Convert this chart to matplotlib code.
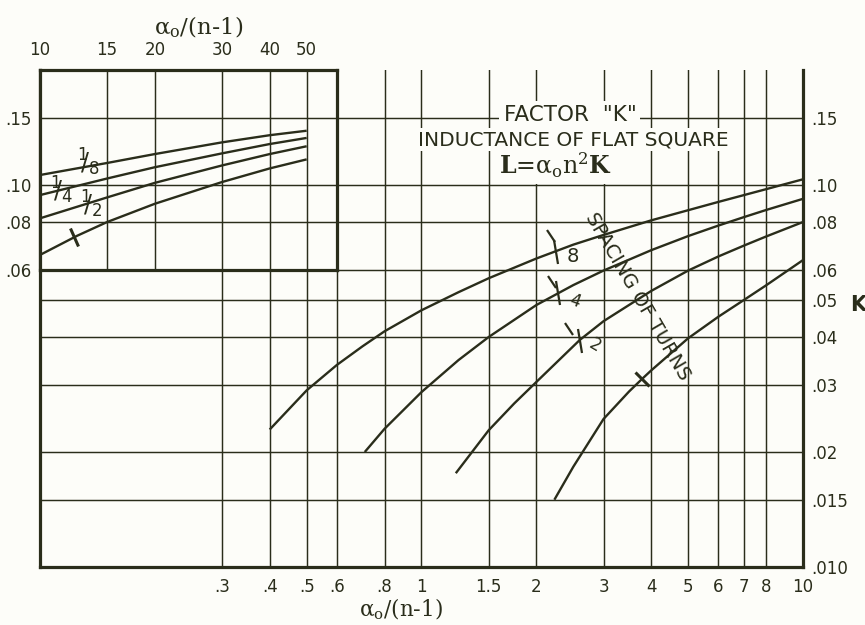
import matplotlib
matplotlib.use('Agg')
import matplotlib.pyplot as plt
from matplotlib.markers import MarkerStyle
from matplotlib.transforms import Affine2D
import numpy as np

# ---------------- data ----------------
spacing_labels = ['1/8', '1/4', '1/2', '1']

main_x_18 = [0.4, 0.5, 0.6, 0.7, 0.8, 1.0, 1.25, 1.5, 2.0, 2.5, 3.0, 4.0, 5.0, 6.0, 8.0, 10]
main_k_18 = [0.0229, 0.0290, 0.0338, 0.0378, 0.0414, 0.0470, 0.0524, 0.0570, 0.0642, 0.0698,
             0.0740, 0.0808, 0.0859, 0.0903, 0.0975, 0.1035]
main_x_14 = [0.71, 0.8, 1.0, 1.25, 1.5, 2.0, 2.5, 3.0, 4.0, 5.0, 6.0, 7.0, 8.0, 10]
main_k_14 = [0.0200, 0.0230, 0.0287, 0.0348, 0.0400, 0.0485, 0.0547, 0.0597, 0.0675, 0.0735,
             0.0783, 0.0824, 0.0860, 0.0920]
main_x_12 = [1.23, 1.5, 1.75, 2.0, 2.6, 3.0, 4.0, 5.0, 6.0, 7.0, 8.0, 10]
main_k_12 = [0.0176, 0.0228, 0.0268, 0.0305, 0.0393, 0.0440, 0.0528, 0.0597, 0.0650, 0.0694,
             0.0733, 0.0800]
main_x_1 = [2.23, 2.5, 3.0, 3.5, 3.79, 4.0, 5.0, 6.0, 7.0, 8.0, 10]
main_k_1 = [0.0150, 0.0183, 0.0244, 0.0288, 0.0311, 0.0327, 0.0397, 0.0452, 0.0500, 0.0546, 0.0636]

inset_x = [10, 15, 20, 30, 40, 50]
inset_k_18 = [0.1062, 0.1142, 0.1205, 0.1293, 0.1350, 0.1387]
inset_k_14 = [0.0941, 0.1040, 0.1113, 0.1210, 0.1280, 0.1328]
inset_k_12 = [0.0818, 0.0928, 0.1013, 0.1125, 0.1205, 0.1263]
inset_x_1 = [10, 12.5, 15, 20, 30, 40, 50]
inset_k_1 = [0.0656, 0.0736, 0.0800, 0.0893, 0.1018, 0.1105, 0.1167]

bottom_ticks = [0.3, 0.4, 0.5, 0.6, 0.8, 1, 1.5, 2, 3, 4, 5, 6, 7, 8, 10]
bottom_labels = ['.3', '.4', '.5', '.6', '.8', '1', '1.5', '2', '3', '4', '5', '6', '7', '8', '10']
right_ticks = [0.15, 0.10, 0.08, 0.06, 0.05, 0.04, 0.03, 0.02, 0.015, 0.010]
right_labels = ['.15', '.10', '.08', '.06', '.05', '.04', '.03', '.02', '.015', '.010']
inset_top_ticks = [10, 15, 20, 30, 40, 50]
inset_top_labels = ['10', '15', '20', '30', '40', '50']
inset_left_ticks = [0.15, 0.10, 0.08, 0.06]
inset_left_labels = ['.15', '.10', '.08', '.06']

# ---------------- style ----------------
INK = '#2a2d1b'
BG = '#fdfdf9'
GRID_LW = 1.05
CURVE_LW = 1.7
FRAME_LW = 2.3

plt.rcParams['font.family'] = ['DejaVu Sans']

W, H = 865, 625
fig = plt.figure(figsize=(W / 100, H / 100), dpi=100, facecolor=BG)

L, R, B, T = 40, 803, 567, 70
ax = fig.add_axes([L / W, 1 - B / H, (R - L) / W, (B - T) / H])
ax.set_facecolor(BG)
ax.set_xscale('log')
ax.set_yscale('log')
ax.set_xlim(0.1, 10)
ax.set_ylim(0.01, 0.2)
ax.set_xticks(bottom_ticks)
ax.set_xticklabels(bottom_labels)
ax.set_yticks(right_ticks)
ax.set_yticklabels(right_labels)
ax.minorticks_off()
ax.yaxis.tick_right()
ax.tick_params(axis='both', length=0, labelsize=12, colors=INK)
ax.tick_params(axis='x', pad=8)
ax.tick_params(axis='y', pad=6)
ax.grid(True, color=INK, lw=GRID_LW)
ax.set_axisbelow(True)
for s in ['left', 'bottom', 'right']:
    ax.spines[s].set_linewidth(FRAME_LW)
    ax.spines[s].set_color(INK)
ax.spines['top'].set_visible(False)


def stroke(a, x, y, angle, size, lw, z=6):
    a.plot([x], [y], linestyle='none',
           marker=MarkerStyle('|', transform=Affine2D().rotate_deg(angle)),
           markersize=size, markeredgewidth=lw, color=INK, zorder=z)


for xs, ks in [(main_x_18, main_k_18), (main_x_14, main_k_14),
               (main_x_12, main_k_12), (main_x_1, main_k_1)]:
    ax.plot(xs, ks, color=INK, lw=CURVE_LW, solid_capstyle='butt',
            solid_joinstyle='round', zorder=4)

# fraction marks on main curves
stroke(ax, 2.18, 0.0736, 35, 10, 1.6)
stroke(ax, 2.25, 0.0668, 7, 18, 1.6)
ax.text(2.49, 0.0648, '8', fontsize=14, color=INK, ha='center', va='center')
stroke(ax, 2.20, 0.0556, 35, 10, 1.6)
stroke(ax, 2.28, 0.0522, 7, 18, 1.6)
ax.text(2.52, 0.0498, '4', fontsize=12, color=INK, ha='center', va='center', rotation=-20)
stroke(ax, 2.44, 0.0420, 35, 10, 1.6)
stroke(ax, 2.60, 0.0390, 7, 18, 1.6)
ax.text(2.85, 0.0380, '2', fontsize=12, color=INK, ha='center', va='center', rotation=-30)
# spacing 1 tick
stroke(ax, 3.79, 0.0311, 45, 15, 2.2)

ax.text(3.69, 0.0509, 'SPACING OF TURNS', rotation=-59.8, rotation_mode='anchor',
        ha='center', va='center', fontsize=14, color=INK, zorder=7)

# title block (lowest line first so upper lines draw over its background)
ax.text(2.25, 0.1126, r'$\mathbf{L}$=$\mathrm{\alpha_{o}n^{2}}\mathbf{K}$', fontsize=17,
        color=INK, ha='center', va='center', math_fontfamily='dejavuserif',
        bbox=dict(facecolor=BG, edgecolor='none', pad=3), zorder=8)
ax.text(2.50, 0.1315, 'INDUCTANCE OF FLAT SQUARE', fontsize=14.5, color=INK,
        ha='center', va='center', bbox=dict(facecolor=BG, edgecolor='none', pad=1.5), zorder=9)
ax.text(2.45, 0.1525, 'FACTOR  "K"', fontsize=15.5, color=INK, ha='center', va='center',
        bbox=dict(facecolor=BG, edgecolor='none', pad=3), zorder=10)

# ---------------- inset ----------------
x1 = np.log10(6) / 2
y0 = np.log10(6) / np.log10(20)
axin = ax.inset_axes([0, y0, x1, 1 - y0])
axin.set_facecolor(BG)
axin.set_xscale('log')
axin.set_yscale('log')
axin.set_xlim(10, 60)
axin.set_ylim(0.06, 0.2)
axin.set_xticks(inset_top_ticks)
axin.set_xticklabels(inset_top_labels)
axin.set_yticks(inset_left_ticks)
axin.set_yticklabels(inset_left_labels)
axin.minorticks_off()
axin.xaxis.tick_top()
axin.tick_params(axis='both', length=0, labelsize=12, colors=INK)
axin.tick_params(axis='x', pad=8)
axin.tick_params(axis='y', pad=6)
axin.grid(True, color=INK, lw=GRID_LW)
axin.set_axisbelow(True)
for s in axin.spines.values():
    s.set_linewidth(FRAME_LW)
    s.set_color(INK)

for xs, ks in [(inset_x, inset_k_18), (inset_x, inset_k_14),
               (inset_x, inset_k_12), (inset_x_1, inset_k_1)]:
    axin.plot(xs, ks, color=INK, lw=CURVE_LW, solid_capstyle='butt',
              solid_joinstyle='round', zorder=4)

axin.text(13.4, 0.1150, r'$^{1}\!\!/_{8}$', fontsize=17, color=INK, ha='center', va='center')
axin.text(11.4, 0.0970, r'$^{1}\!\!/_{4}$', fontsize=17, color=INK, ha='center', va='center')
axin.text(13.6, 0.0892, r'$^{1}\!\!/_{2}$', fontsize=17, color=INK, ha='center', va='center')
stroke(axin, 12.3, 0.0731, 27, 14, 2.2)

# axis labels
fig.text(401 / W, 1 - 609 / H, r'$\mathrm{\alpha_{o}/(n}$-$\mathrm{1)}$', fontsize=15.5,
         color=INK, ha='center', va='center', math_fontfamily='dejavuserif')
fig.text(199 / W, 1 - 27 / H, r'$\mathrm{\alpha_{o}/(n}$-$\mathrm{1)}$', fontsize=16.5,
         color=INK, ha='center', va='center', math_fontfamily='dejavuserif')
fig.text(858 / W, 1 - 305 / H, 'K', fontsize=15, fontweight='bold', color=INK,
         ha='center', va='center')

fig.savefig('out.png', dpi=100, facecolor=BG)
